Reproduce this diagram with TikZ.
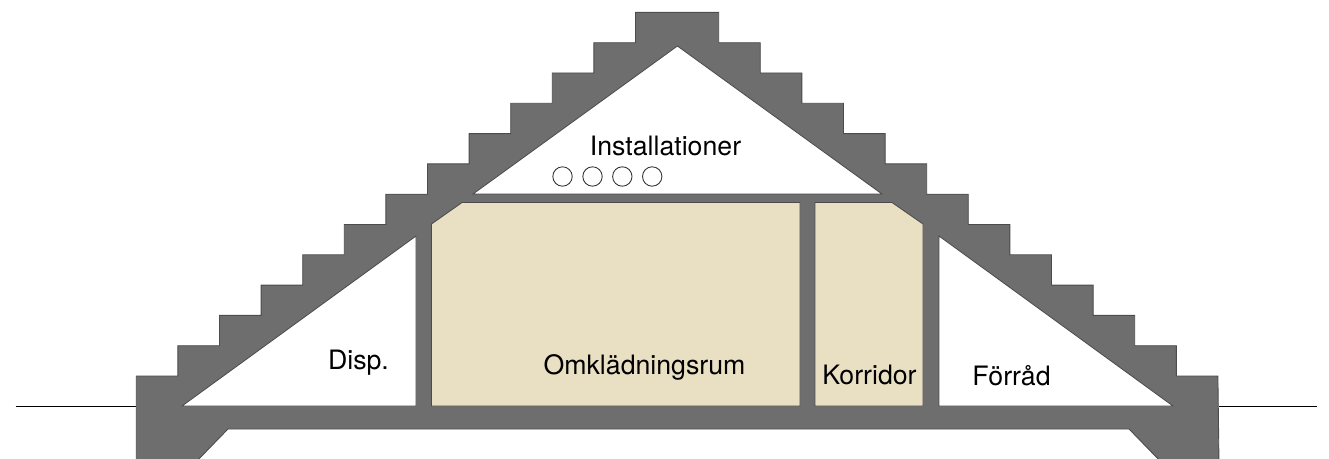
\documentclass[tikz,border=0pt]{standalone}
\usepackage{fontspec}
\setmainfont{TeX Gyre Heros}
\definecolor{wallgray}{HTML}{6E6E6E}
\definecolor{roombeige}{HTML}{E9DFC3}
\tikzset{
	wall/.style={fill=wallgray, draw=black!70, line width=0.5pt},
	room/.style={draw=black!70, line width=0.5pt, line join=miter},
	groundline/.style={draw=black, line width=0.45pt},
	roomlabel/.style={inner sep=0pt, font=\fontsize{15.2}{18}\selectfont},
	pipe/.style={draw=black!80, fill=white, line width=0.5pt}
}

\begin{document}
\begin{tikzpicture}[x=0.02cm, y=-0.02cm, line join=miter]
	\clip (0,0) rectangle (1329,459);
	
	% ground level
	\coordinate (groundL) at (15.5,406);
	\coordinate (groundLend) at (136,406);
	\coordinate (groundR) at (1219,406);
	\coordinate (groundRend) at (1317,406);
	\draw[groundline] (groundL) -- (groundLend);
	\draw[groundline] (groundR) -- (groundRend);
	
	% roof and floor section
	\draw[wall] (136.3,465) -- (136.3,376)
	\foreach \i in {1,...,12} {-- ++(41.6,0) -- ++(0,-30.3)}
	-- ++(83.2,0)
	\foreach \i in {1,...,12} {-- ++(0,30.3) -- ++(41.6,0)}
	-- (1219,465) -- (1164,465) -- (1129,429) -- (228,429) -- (193,465) -- cycle;
	
	% spaces under the roof
	\draw[room, fill=white] (677.4,46) -- (882,194) -- (473,194) -- cycle;
	\draw[room, fill=white] (416,236) -- (416,406) -- (182,406) -- cycle;
	\draw[room, fill=white] (939,236) -- (939,406) -- (1173,406) -- cycle;
	\draw[room, fill=roombeige] (462,202.5) -- (800,202.5) -- (800,406) -- (431.5,406) -- (431.5,224) -- cycle;
	\draw[room, fill=roombeige] (815,202.5) -- (892,202.5) -- (923,224) -- (923,406) -- (815,406) -- cycle;
	
	% pipes
	\foreach \x in {562.5,592.5,622.3,652.2}
	\draw[pipe] (\x,176.5) circle (9.7);
	
	% labels
	\node[roomlabel] (installationer) at (665.5,146) {Installationer};
	\node[roomlabel] (disp) at (358.5,362.5) {Disp.};
	\node[roomlabel] (omkladning) at (644.5,367) {Omklädningsrum};
	\node[roomlabel] (korridor) at (869.5,374.5) {Korridor};
	\node[roomlabel] (forrad) at (1011.5,375.5) {Förråd};
\end{tikzpicture}
\end{document}
